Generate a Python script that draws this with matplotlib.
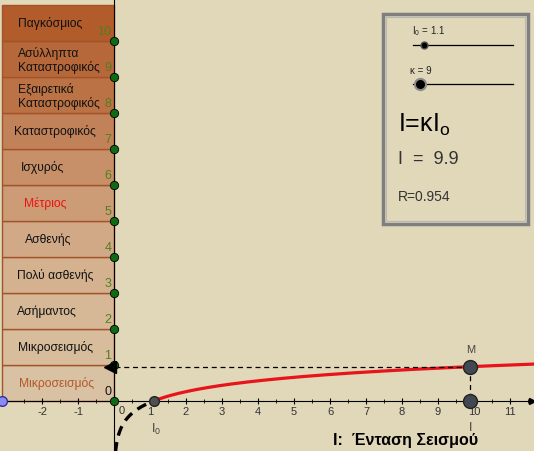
import numpy as np
import matplotlib
matplotlib.use("Agg")
import matplotlib.pyplot as plt
from matplotlib.patches import Rectangle

plt.rcParams['font.family'] = ['Liberation Sans', 'DejaVu Sans']

# δεδομένα
I0 = 1.1
kappa = 9
I = kappa * I0
R = np.log10(I / I0)

band_labels = ["Μικροσεισμός", "Μικροσεισμός", "Ασήμαντος", "Πολύ ασθενής", "Ασθενής",
               "Μέτριος", "Ισχυρός", "Καταστροφικός", "Εξαιρετικά\nΚαταστροφικός",
               "Ασύλληπτα\nΚαταστροφικός", "Παγκόσμιος"]
band_levels = list(range(11))
x_ticks = [-2, -1, 1, 2, 3, 4, 5, 6, 7, 8, 9, 10, 11]

# χρώματα / θέσεις
band_colors = ["#D9C2A3", "#D7BD9C", "#D6B897", "#D4B290", "#D1A987", "#CC9C76",
               "#C79069", "#C1825A", "#BB7245", "#B7683A", "#B25B2B"]
label_colors = ["#B3582A"] + ["#111111"] * 4 + ["#EE1111"] + ["#111111"] * 5
label_x = [-2.64, -2.67, -2.69, -2.69, -2.47, -2.5, -2.58, -2.78, -2.67, -2.67, -2.67]
bg = "#E1D7B9"
green = "#4F7F1F"

fig = plt.figure(figsize=(5.34, 4.52), dpi=100)
fig.patch.set_facecolor(bg)
ax = fig.add_axes([0, 0, 1, 1])
ax.set_facecolor(bg)
ax.set_xlim(-114 / 36, 420 / 36)
ax.set_ylim(-50 / 36, 402 / 36)

# ζώνες
for k, lab in zip(band_levels, band_labels):
    ax.add_patch(Rectangle((-3.11, k), 3.11, 1, facecolor=band_colors[k],
                           edgecolor="#A3532A", lw=1, zorder=1))
    ax.text(label_x[k], k + 0.5, lab, ha="left", va="center", fontsize=8.7,
            color=label_colors[k], linespacing=1.1, zorder=5)
    ax.text(-0.07, k + 0.28, str(k), ha="right", va="center", fontsize=9,
            color="#111111" if k == 0 else green, zorder=5)

# άξονες
for s in ["top", "right"]:
    ax.spines[s].set_visible(False)
ax.spines["bottom"].set_position(("data", 0))
ax.spines["left"].set_position(("data", 0))
ax.spines["bottom"].set_zorder(3)
ax.spines["left"].set_zorder(3)
ax.set_xticks(x_ticks)
ax.set_xticklabels([str(t) for t in x_ticks])
ax.set_xticks(np.arange(-3, 12, 0.5), minor=True)
ax.tick_params(axis="x", which="major", direction="inout", length=5, width=0.8,
               labelsize=8, labelcolor="#333333", pad=1)
ax.tick_params(axis="x", which="minor", direction="inout", length=3, width=0.6)
ax.set_yticks([])
ax.text(0.22, -0.1, "0", ha="center", va="top", fontsize=8, color="#333333")
ax.plot([11.6], [0], marker=">", color="k", ms=5, clip_on=False, zorder=4)

# καμπύλες
x_solid = np.linspace(I0, 11.7, 300)
ax.plot(x_solid, np.log10(x_solid / I0), color="#E8141C", lw=2.3, zorder=4)
x_dash = np.linspace(0.04, I0, 200)
ax.plot(x_dash, np.log10(x_dash / I0), color="k", lw=2.4, ls=(0, (3, 2)), zorder=4)

# βοηθητικές γραμμές
ax.plot([I, 0.05], [R, R], color="k", lw=0.9, ls=(0, (4, 3)), zorder=4)
ax.plot([I, I], [R, 0], color="k", lw=0.9, ls=(0, (4, 3)), zorder=4)

# σημεία
ax.scatter(np.zeros(11), band_levels, s=36, color="#0E6A14", edgecolor="k", lw=0.6, zorder=6)
ax.plot([-0.12], [R], marker="<", color="k", ms=8, zorder=7)
ax.plot([I, I], [R, 0], ls="none", marker="o", ms=10, mfc="#424852", mec="#222222", zorder=8)
ax.plot([I0], [0], ls="none", marker="o", ms=7, mfc="#505050", mec="#222222", zorder=8)
ax.plot([-3.11], [0], ls="none", marker="o", ms=7, mfc="#8C8CF0", mec="#3030A0", zorder=8,
        clip_on=False)

ax.text(I, R + 0.5, "M", ha="center", va="center", fontsize=8, color="#444444")
ax.text(I, -0.72, "I", ha="center", va="center", fontsize=9, color="#444444")
ax.text(I0 + 0.06, -0.75, r"I$_\mathregular{0}$", ha="center", va="center", fontsize=9,
        color="#444444")
ax.text(6.08, -1.08, "I:  Ένταση Σεισμού", ha="left", va="center", fontsize=11.5,
        fontweight="bold", color="k")

# πλαίσιο με sliders
tr = ax.transAxes
W, H = 534, 452


def fx(px):
    return px / W


def fy(py):
    return 1 - py / H


ax.add_patch(Rectangle((fx(383), fy(225)), fx(528) - fx(383), fy(15) - fy(225),
                       transform=tr, facecolor=bg, edgecolor="#7F7F7F", lw=2.5, zorder=9))
ax.add_patch(Rectangle((fx(386), fy(222)), fx(525) - fx(386), fy(18) - fy(222),
                       transform=tr, facecolor="none", edgecolor="#B8B8B8", lw=0.8, zorder=9))
ax.text(fx(412), fy(31), r"I$_\mathregular{0}$ = " + str(I0), transform=tr, fontsize=7,
        va="center", ha="left", color="#222222", zorder=10)
ax.plot([fx(413), fx(513)], [fy(46), fy(46)], transform=tr, color="k", lw=0.9, zorder=10)
ax.plot([fx(424)], [fy(46)], transform=tr, marker="o", ms=5, mfc="k", mec="#555555", zorder=11)
ax.text(fx(410), fy(71), "κ = " + str(kappa), transform=tr, fontsize=7,
        va="center", ha="left", color="#222222", zorder=10)
ax.plot([fx(413), fx(513)], [fy(85), fy(85)], transform=tr, color="k", lw=0.9, zorder=10)
ax.plot([fx(420)], [fy(85)], transform=tr, marker="o", ms=8, mfc="k", mec="#8A8A8A",
        mew=1.5, zorder=11)
ax.text(fx(398), fy(125), r"I=κI$_\mathregular{o}$", transform=tr, fontsize=18,
        va="center", ha="left", color="k", zorder=10)
ax.text(fx(398), fy(160), "I  =  " + str(round(I, 1)), transform=tr, fontsize=13,
        va="center", ha="left", color="#333333", zorder=10)
ax.text(fx(398), fy(197), "R=" + str(round(R, 3)), transform=tr, fontsize=10,
        va="center", ha="left", color="#333333", zorder=10)

fig.savefig("out.png", dpi=100, facecolor=bg)
